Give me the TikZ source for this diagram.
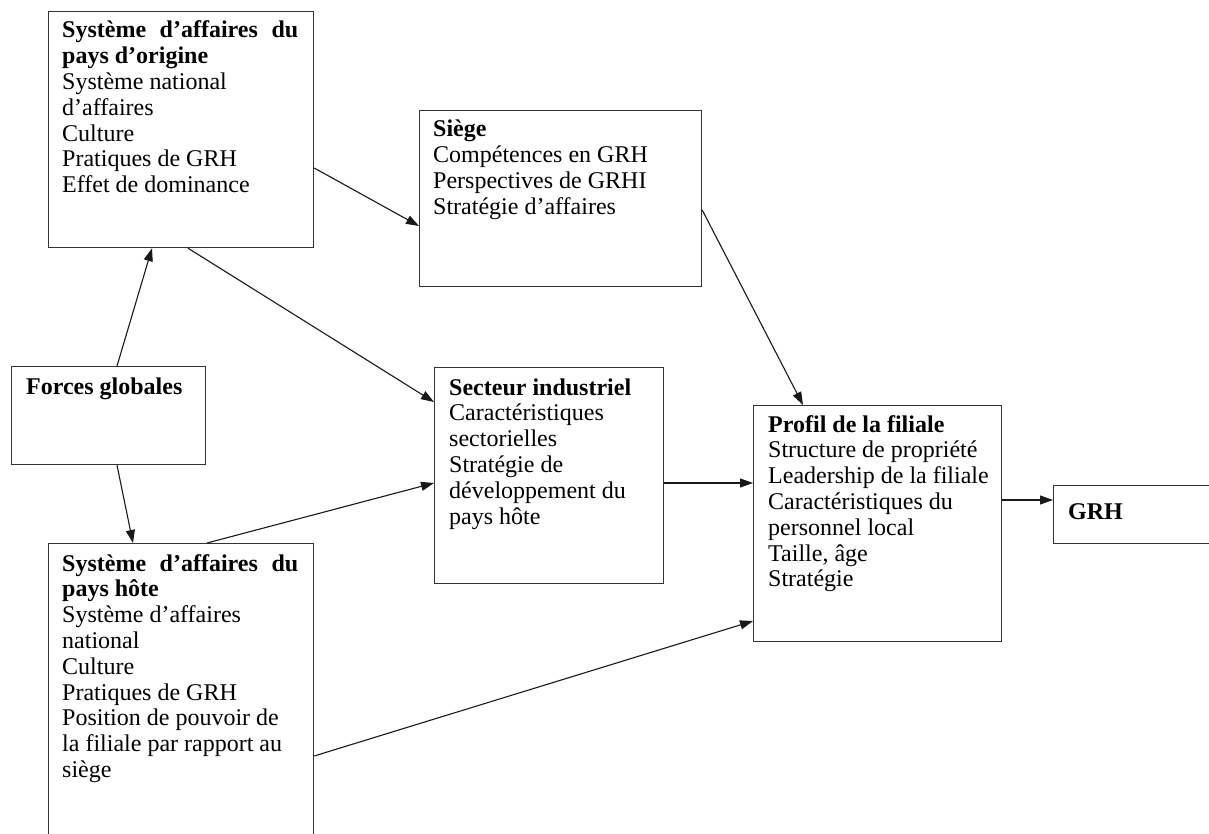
\documentclass[tikz,border=0pt]{standalone}
\usepackage{fontspec}
\setmainfont{Liberation Serif}
\usetikzlibrary{arrows.meta}
\tikzset{
  boxnode/.style={draw=black!80, line width=1.2pt, inner sep=0pt, anchor=north west},
  txt/.style={anchor=base west, inner sep=0pt, font=\fontsize{24}{25.8}\selectfont},
  conn/.style={draw=black!90, line width=1.1pt, -{Triangle[length=13pt,width=9pt]}}
}
\begin{document}
\begin{tikzpicture}[x=1pt,y=-1pt]
\useasboundingbox (0,0) rectangle (1209,834);
\fill[white] (0,0) rectangle (1209,834);
\clip (0,0) rectangle (1209,834);
% boxes
\node[boxnode, minimum width=265pt, minimum height=236pt] (orig) at (48,11) {};
\node[boxnode, minimum width=282pt, minimum height=176pt] (siege) at (419,110) {};
\node[boxnode, minimum width=194pt, minimum height=98pt] (forces) at (11,366) {};
\node[boxnode, minimum width=229pt, minimum height=216pt] (secteur) at (434,367) {};
\node[boxnode, minimum width=248pt, minimum height=236pt] (profil) at (753,405) {};
\node[boxnode, minimum width=170pt, minimum height=58pt] (grh) at (1053,485) {};
\node[boxnode, minimum width=265pt, minimum height=320pt] (hote) at (48,543) {};
% texts
\node[txt] (origt) at (62,38) {\vtop{%
  \hbox to 236pt{\bfseries Système\hfill d’affaires\hfill du}
  \hbox{\bfseries pays d’origine}
  \hbox{Système national}
  \hbox{d’affaires}
  \hbox{Culture}
  \hbox{Pratiques de GRH}
  \hbox{Effet de dominance}}};
\node[txt] (sieget) at (433,137) {\vtop{%
  \hbox{\bfseries Siège}
  \hbox{Compétences en GRH}
  \hbox{Perspectives de GRHI}
  \hbox{Stratégie d’affaires}}};
\node[txt] (forcest) at (26,394) {\bfseries Forces globales};
\node[txt] (secteurt) at (449,395) {\vtop{%
  \hbox{\bfseries Secteur industriel}
  \hbox{Caractéristiques}
  \hbox{sectorielles}
  \hbox{Stratégie de}
  \hbox{développement du}
  \hbox{pays hôte}}};
\node[txt] (profilt) at (768,432) {\vtop{%
  \hbox{\bfseries Profil de la filiale}
  \hbox{Structure de propriété}
  \hbox{Leadership de la filiale}
  \hbox{Caractéristiques du}
  \hbox{personnel local}
  \hbox{Taille, âge}
  \hbox{Stratégie}}};
\node[txt] (grht) at (1068,519) {\bfseries GRH};
\node[txt] (hotet) at (62,571) {\vtop{%
  \hbox to 236pt{\bfseries Système\hfill d’affaires\hfill du}
  \hbox{\bfseries pays hôte}
  \hbox{Système d’affaires}
  \hbox{national}
  \hbox{Culture}
  \hbox{Pratiques de GRH}
  \hbox{Position de pouvoir de}
  \hbox{la filiale par rapport au}
  \hbox{siège}}};
% connectors
\draw[conn] ([xshift=106pt]forces.north west) -- ([xshift=104pt]orig.south west);
\draw[conn] ([xshift=106pt]forces.south west) -- ([xshift=85pt]hote.north west);
\draw[conn] ([xshift=140pt]orig.south west) -- ([yshift=-35pt]secteur.north west);
\draw[conn] ([yshift=-157pt]orig.north east) -- ([yshift=-116pt]siege.north west);
\draw[conn] ([xshift=159pt]hote.north west) -- ([yshift=-116pt]secteur.north west);
\draw[conn] ([yshift=-116pt]secteur.north east) -- ([yshift=-78pt]profil.north west);
\draw[conn] ([yshift=-100pt]siege.north east) -- ([xshift=50pt]profil.north west);
\draw[conn] ([yshift=-213pt]hote.north east) -- ([yshift=-216pt]profil.north west);
\draw[conn] ([yshift=-95pt]profil.north east) -- ([yshift=-15pt]grh.north west);
\end{tikzpicture}
\end{document}
